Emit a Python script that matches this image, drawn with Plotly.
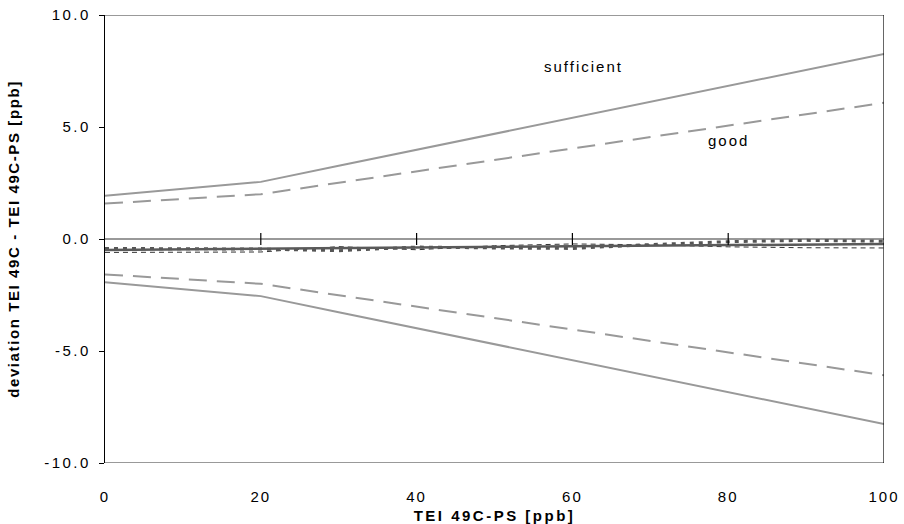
import plotly.graph_objects as go

x = [0, 10, 20, 30, 40, 50, 60, 70, 80, 90, 100]
sufficient_upper = [1.93, 2.24, 2.55, 3.27, 3.98, 4.7, 5.41, 6.13, 6.84, 7.56, 8.26]
good_upper = [1.58, 1.79, 2.0, 2.51, 3.02, 3.54, 4.05, 4.56, 5.07, 5.58, 6.08]
sufficient_lower = [-v for v in sufficient_upper]
good_lower = [-v for v in good_upper]
mean_dev = [-0.49, -0.46, -0.44, -0.41, -0.38, -0.36, -0.33, -0.30, -0.28, -0.25, -0.22]
dev_a = [-0.42, -0.44, -0.45, -0.52, -0.36, -0.4, -0.42, -0.25, -0.12, -0.06, -0.1]
dev_b = [-0.6, -0.6, -0.58, -0.34, -0.48, -0.3, -0.22, -0.26, -0.35, -0.39, -0.4]

x_ticks = [0, 20, 40, 60, 80, 100]
x_tick_text = ["0", "20", "40", "60", "80", "100"]
y_ticks = [-10, -5, 0, 5, 10]
y_tick_text = ["-10.0", "-5.0", "0.0", "5.0", "10.0"]


def spaced(t, px):
    return f'<span style="letter-spacing:{px}px">{t}</span>'


GRAY = "#999999"
fig = go.Figure()
fig.add_trace(go.Scatter(x=x, y=sufficient_upper, mode="lines", line=dict(color=GRAY, width=2)))
fig.add_trace(go.Scatter(x=x, y=good_upper, mode="lines", line=dict(color=GRAY, width=2, dash="18px,10px")))
fig.add_trace(go.Scatter(x=x, y=sufficient_lower, mode="lines", line=dict(color=GRAY, width=2)))
fig.add_trace(go.Scatter(x=x, y=good_lower, mode="lines", line=dict(color=GRAY, width=2, dash="18px,10px")))
fig.add_trace(go.Scatter(x=x, y=dev_b, mode="lines", line=dict(color="#333333", width=1, dash="5px,4px")))
fig.add_trace(go.Scatter(x=x, y=dev_a, mode="lines", line=dict(color="#555555", width=3, dash="4px,5px")))
fig.add_trace(go.Scatter(x=x, y=mean_dev, mode="lines", line=dict(color="#5a5a5a", width=2.5)))

shapes = []
for yv in [10, 0, -10]:
    shapes.append(dict(type="line", xref="x", yref="y", x0=0, x1=100, y0=yv, y1=yv,
                       line=dict(color=GRAY, width=2), layer="below"))
shapes.append(dict(type="line", xref="x", yref="y", x0=100, x1=100, y0=-10, y1=10,
                   line=dict(color="black", width=1.2)))
for xv in x_ticks[1:-1]:
    shapes.append(dict(type="line", xref="x", yref="y", ysizemode="pixel", yanchor=0,
                       x0=xv, x1=xv, y0=-6, y1=6, line=dict(color="black", width=1.2)))

fig.update_layout(
    width=904, height=524,
    margin=dict(l=105, r=20, t=15, b=61),
    paper_bgcolor="white", plot_bgcolor="white",
    showlegend=False,
    font=dict(family="Liberation Sans, Arial, sans-serif", size=14, color="black"),
    shapes=shapes,
    xaxis=dict(range=[0, 100], tickvals=x_ticks, automargin=False,
               ticktext=[spaced(t, 2) for t in x_tick_text], showgrid=False, zeroline=False,
               showline=False, ticks="", ticklabelstandoff=23, tickfont=dict(size=15),
               title=dict(text="<b>" + spaced("TEI 49C-PS [ppb]", 2.5) + "</b>", font=dict(size=15), standoff=6)),
    yaxis=dict(range=[-10, 10], tickvals=y_ticks, automargin=False,
               ticktext=[spaced(t, 2.5) for t in y_tick_text], showgrid=False,
               zeroline=False, showline=True, linecolor="black", linewidth=1.2,
               ticks="outside", ticklen=5, tickcolor="black", tickfont=dict(size=15),
               ticklabelstandoff=5,
               title=dict(text="<b>" + spaced("deviation TEI 49C - TEI 49C-PS [ppb]", 1.6) + "</b>",
                          font=dict(size=15), standoff=20)),
    annotations=[
        dict(x=61.4, y=7.7, xref="x", yref="y", text=spaced("sufficient", 2), showarrow=False, font=dict(size=15)),
        dict(x=80.0, y=4.4, xref="x", yref="y", text=spaced("good", 2), showarrow=False, font=dict(size=15)),
    ],
)
fig.write_html("out.html")
